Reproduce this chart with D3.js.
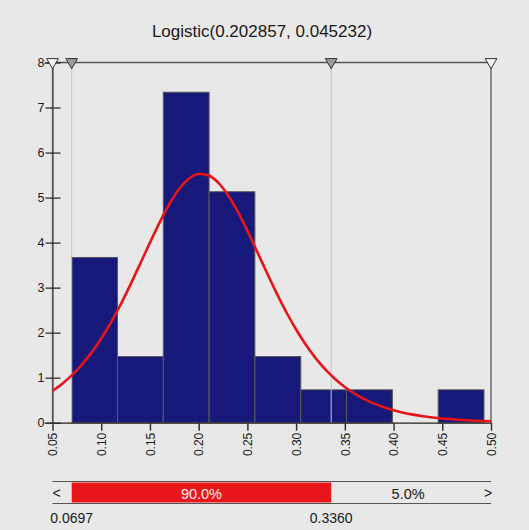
<!DOCTYPE html>
<html>
<head>
<meta charset="utf-8">
<script src="https://cdn.jsdelivr.net/npm/d3@7/dist/d3.min.js"></script>
<style>
  html, body { margin: 0; padding: 0; background: #e8e8e8; }
  svg { display: block; font-family: "Liberation Sans", Arial, sans-serif; }
</style>
</head>
<body>
<svg id="chart" width="529" height="530"></svg>
<script>
// histogram bins (edges) and density heights
const binEdges = [0.0697, 0.1167, 0.1637, 0.2107, 0.2577, 0.3048, 0.3518, 0.3988, 0.4458, 0.4928];
const densities = [3.67, 1.47, 7.34, 5.13, 1.47, 0.73, 0.73, 0, 0.73];

// fitted logistic curve, sampled every 0.01
const curveX = d3.range(46).map(i => +(0.05 + i * 0.01).toFixed(2));
const curveY = [0.705, 0.865, 1.057, 1.286, 1.556, 1.870, 2.229, 2.630, 3.068, 3.530,
  3.999, 4.451, 4.858, 5.189, 5.417, 5.522, 5.493, 5.333, 5.058, 4.691,
  4.261, 3.799, 3.330, 2.877, 2.453, 2.070, 1.730, 1.435, 1.183, 0.970,
  0.792, 0.645, 0.523, 0.423, 0.342, 0.276, 0.222, 0.179, 0.144, 0.116,
  0.093, 0.075, 0.060, 0.048, 0.039, 0.031];

const xTicks = [0.05, 0.10, 0.15, 0.20, 0.25, 0.30, 0.35, 0.40, 0.45, 0.50];
const yTicks = [0, 1, 2, 3, 4, 5, 6, 7, 8];

// delimiter markers and the probabilities between them
const markers = [0.05, 0.0697, 0.3360, 0.50];
const markerFilled = [false, true, true, false];
const bandLow = 0.0697, bandHigh = 0.3360;
const bandPct = ["5.0%", "90.0%", "5.0%"];
const title = "Logistic(0.202857, 0.045232)";

const svg = d3.select("#chart");
const x = d3.scaleLinear().domain([0.05, 0.50]).range([52.5, 491]);
const y = d3.scaleLinear().domain([0, 8]).range([422.7, 62.5]);

svg.append("rect").attr("width", 529).attr("height", 530).attr("fill", "#e8e8e8");

svg.append("text")
  .attr("x", 262).attr("y", 37)
  .attr("text-anchor", "middle")
  .style("font-size", "17px").attr("fill", "#1a1a1a")
  .text(title);

// bars
const bins = densities.map((d, i) => ({x0: binEdges[i], x1: binEdges[i + 1], v: d}));
svg.append("g").selectAll("rect")
  .data(bins.filter(b => b.v > 0))
  .join("rect")
  .attr("x", d => x(d.x0))
  .attr("width", d => x(d.x1) - x(d.x0))
  .attr("y", d => y(d.v))
  .attr("height", d => y(0) - y(d.v))
  .attr("fill", "#16197a")
  .attr("stroke", "#5a5a5a")
  .attr("stroke-width", 1);

// marker lines
svg.append("g").selectAll("line")
  .data(markers)
  .join("line")
  .attr("x1", d => x(d)).attr("x2", d => x(d))
  .attr("y1", y(8)).attr("y2", y(0))
  .attr("stroke", (d, i) => (i === 0 || i === 3) ? "#555" : "#c4c4c4")
  .attr("stroke-width", (d, i) => (i === 0 || i === 3) ? 1.3 : 1);

// top border
svg.append("line")
  .attr("x1", x(0.05)).attr("x2", x(0.50))
  .attr("y1", y(8)).attr("y2", y(8))
  .attr("stroke", "#555").attr("stroke-width", 1.3);

// y axis
const yAxis = svg.append("g")
  .attr("transform", `translate(${x(0.05)},0)`)
  .call(d3.axisLeft(y).tickValues(yTicks).tickFormat(d3.format("d")).tickSize(8).tickPadding(0));
yAxis.select(".domain").attr("stroke", "#555").attr("stroke-width", 1.3);
yAxis.selectAll(".tick line").attr("x1", 8).attr("x2", -7).attr("stroke", "#222").attr("stroke-width", 1.2);
yAxis.selectAll(".tick text").attr("x", -8).style("font-size", "12.5px").attr("fill", "#1a1a1a");

// x axis
const xAxis = svg.append("g")
  .attr("transform", `translate(0,${y(0)})`)
  .call(d3.axisBottom(x).tickValues(xTicks).tickFormat(d3.format(".2f")).tickSize(8).tickSizeOuter(0));
xAxis.select(".domain").attr("stroke", "#222").attr("stroke-width", 1.3);
xAxis.selectAll(".tick line").attr("stroke", "#333").attr("stroke-width", 1.5);
xAxis.selectAll(".tick text")
  .attr("transform", "rotate(-90)")
  .attr("x", -10).attr("y", 0).attr("dy", "0.35em")
  .attr("text-anchor", "end")
  .style("font-size", "12px").attr("fill", "#1a1a1a");

// fitted curve
const line = d3.line()
  .x((d, i) => x(curveX[i]))
  .y(d => y(d))
  .curve(d3.curveMonotoneX);
svg.append("path")
  .datum(curveY)
  .attr("d", line)
  .attr("fill", "none")
  .attr("stroke", "#e8141a")
  .attr("stroke-width", 2.6);

// triangle markers on top
const tri = d3.symbol().type(d3.symbolTriangle).size(60);
svg.append("g").selectAll("path")
  .data(markers)
  .join("path")
  .attr("d", tri)
  .attr("transform", d => `translate(${x(d)},${y(8) - 0.5}) rotate(180)`)
  .attr("fill", (d, i) => markerFilled[i] ? "#9a9a9a" : "#f2f2f2")
  .attr("stroke", "#333")
  .attr("stroke-width", 1);

// probability band at the bottom
const bandTop = 481.5, bandBot = 503.5;
const band = svg.append("g");
band.append("rect")
  .attr("x", x(bandLow)).attr("width", x(bandHigh) - x(bandLow))
  .attr("y", bandTop + 1).attr("height", bandBot - bandTop - 2)
  .attr("fill", "#e8171b");
[bandTop, bandBot].forEach(yy => band.append("line")
  .attr("x1", x(0.05)).attr("x2", x(0.50))
  .attr("y1", yy).attr("y2", yy)
  .attr("stroke", "#555").attr("stroke-width", 1.2));
band.append("text")
  .attr("x", (x(bandLow) + x(bandHigh)) / 2).attr("y", 499)
  .attr("text-anchor", "middle").style("font-size", "14.5px").attr("fill", "#f0f0f0")
  .text(bandPct[1]);
band.append("text")
  .attr("x", (x(bandHigh) + x(0.50)) / 2 - 3).attr("y", 499)
  .attr("text-anchor", "middle").style("font-size", "14.5px").attr("fill", "#1a1a1a")
  .text(bandPct[2]);
band.append("text")
  .attr("x", x(0.05) + 4).attr("y", 498)
  .attr("text-anchor", "middle").style("font-size", "14px").attr("fill", "#1a1a1a")
  .text("<");
band.append("text")
  .attr("x", x(0.50) - 3).attr("y", 498)
  .attr("text-anchor", "middle").style("font-size", "14px").attr("fill", "#1a1a1a")
  .text(">");
[bandLow, bandHigh].forEach(v => band.append("text")
  .attr("x", x(v)).attr("y", 523)
  .attr("text-anchor", "middle").style("font-size", "14px").attr("fill", "#1a1a1a")
  .text(v.toFixed(4)));
</script>
</body>
</html>
